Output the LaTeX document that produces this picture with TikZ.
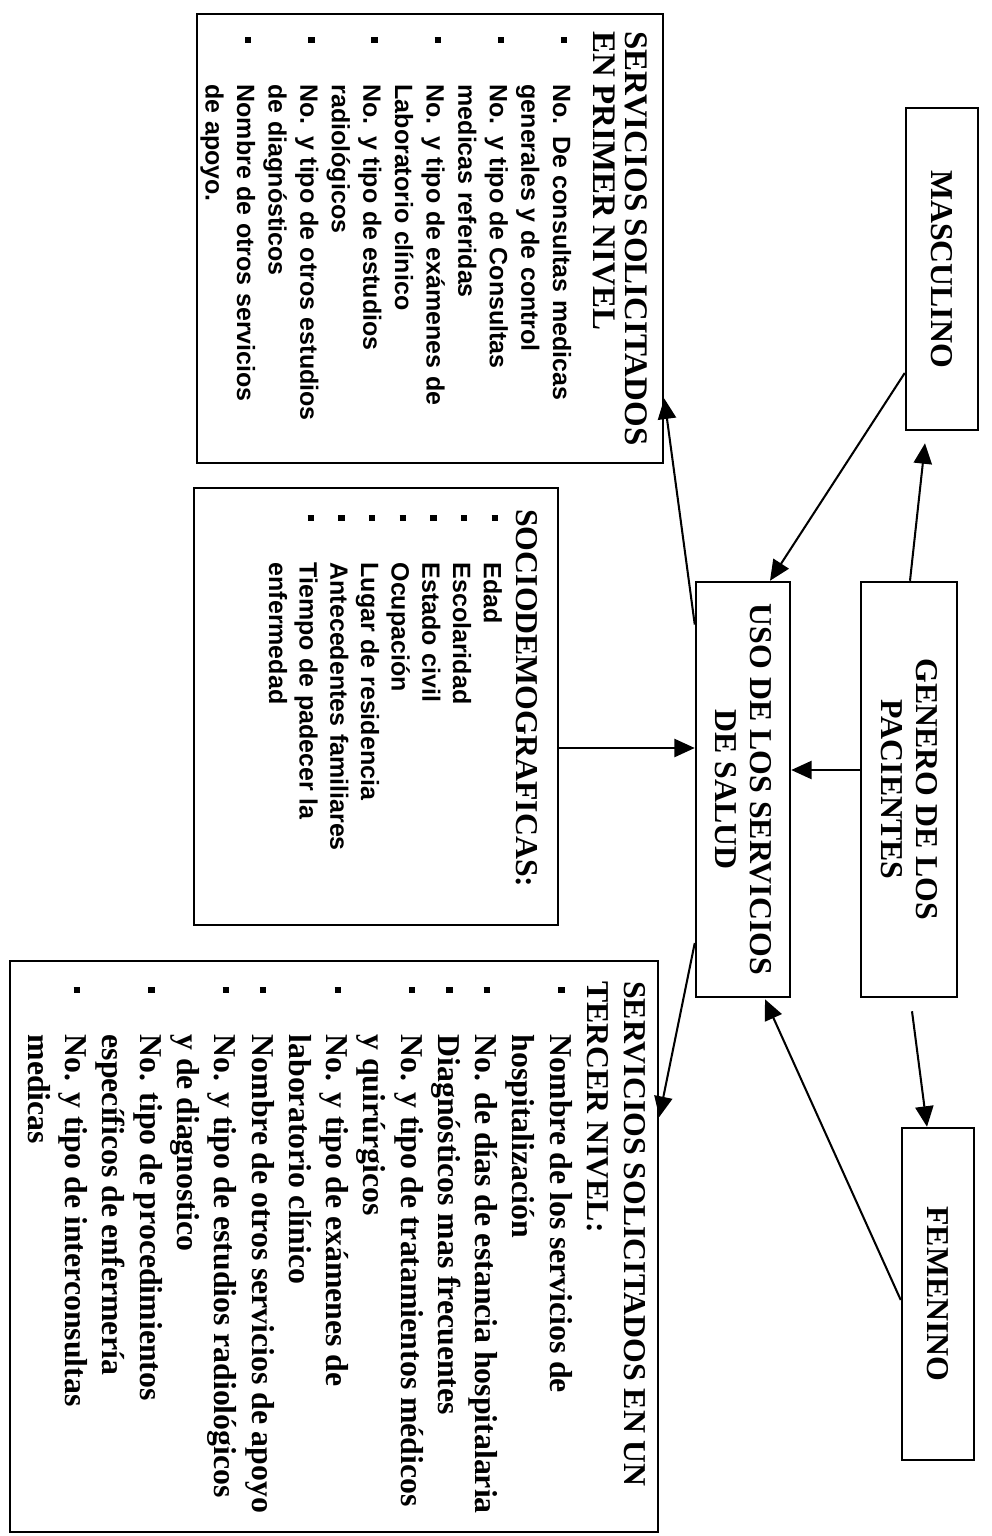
\documentclass[tikz,border=0pt]{standalone}
\usepackage{fontspec}
\setmainfont{Liberation Serif}
\setsansfont{Liberation Sans}
\usetikzlibrary{arrows.meta, calc}

\newlength{\px}\setlength{\px}{0.44pt}
\newlength{\itmind}\setlength{\itmind}{23.5pt}
\newcommand{\ttlfont}{\rmfamily\bfseries\fontsize{14}{15.5}\selectfont}
\newcommand{\lstfont}{\sffamily\bfseries\fontsize{11}{13.9}\selectfont}
\newcommand{\itm}{\par\noindent\hangindent=\itmind\hangafter=1\relax
  \makebox[\itmind][l]{\hspace{2.5pt}\raisebox{3.5pt}{\rule{2.8pt}{2.8pt}}}\ignorespaces}

\begin{document}
\begin{tikzpicture}[
    x=0.44pt, y=0.44pt, rotate=-90, transform shape,
    box/.style={rectangle, draw, line width=1.1pt, inner sep=0pt, font=\ttlfont, align=center},
    txt/.style={anchor=north west, inner sep=0pt, align=left},
    arrow/.style={-{Triangle[length=9pt, width=8pt]}, line width=0.9pt}
]
\useasboundingbox (0,0) rectangle (1536,992);

% genero y uso de servicios
\node[box, minimum width=322\px, minimum height=72\px] (masc) at (269,942) {MASCULINO};
\node[box, minimum width=415\px, minimum height=96\px] (genero) at (789.5,909) {GENERO DE LOS\\PACIENTES};
\node[box, minimum width=332\px, minimum height=72\px] (fem) at (1294,938) {FEMENINO};
\node[box, minimum width=415\px, minimum height=94\px] (uso) at (789.5,743) {USO DE LOS SERVICIOS\\DE SALUD};

% cuadros de variables
\node[box, minimum width=449\px, minimum height=466\px] (primer) at (238.5,430) {};
\node[box, minimum width=437\px, minimum height=364\px] (socio) at (706.5,376) {};
\node[box, minimum width=571\px, minimum height=648\px] (tercer) at (1246.5,334) {};

\node[txt, text width=440\px] (primertxt) at ($(primer.north west)+(18,-16)$) {%
  {\ttlfont\fontsize{14.5}{14.5}\selectfont SERVICIOS SOLICITADOS\\EN PRIMER NIVEL\par}
  \vspace{3.7pt}\lstfont
  \itm No. De consultas medicas\newline generales y de control
  \itm No. y tipo de Consultas\newline medicas referidas
  \itm No. y tipo de exámenes de\newline Laboratorio clínico
  \itm No. y tipo de estudios\newline radiológicos
  \itm No. y tipo de otros estudios\newline de diagnósticos
  \itm Nombre de otros servicios\newline de apoyo.\par};

\node[txt, text width=420\px] (sociotxt) at ($(socio.north west)+(22,-21)$) {%
  {\ttlfont SOCIODEMOGRAFICAS:\par}
  \vspace{1pt}\lstfont\fontsize{11}{13.5}\selectfont
  \itm Edad
  \itm Escolaridad
  \itm Estado civil
  \itm Ocupación
  \itm Lugar de residencia
  \itm Antecedentes familiares
  \itm Tiempo de padecer la\newline enfermedad\par};

\node[txt, text width=600\px] (tercertxt) at ($(tercer.north west)+(21,-13)$) {%
  \ttlfont\fontsize{14}{16.4}\selectfont
  SERVICIOS SOLICITADOS EN UN\\TERCER NIVEL:\par
  \itm Nombre de los servicios de\newline hospitalización
  \itm No. de días de estancia hospitalaria
  \itm Diagnósticos mas frecuentes
  \itm No. y tipo de tratamientos médicos\newline y quirúrgicos
  \itm No. y tipo de exámenes de\newline laboratorio clínico
  \itm Nombre de otros servicios de apoyo
  \itm No. y tipo de estudios radiológicos\newline y de diagnostico
  \itm No. tipo de procedimientos\newline específicos de enfermería
  \itm No. y tipo de interconsultas\newline medicas\par};

% conectores
\draw[arrow] ($(genero.west)+(0,1)$) -- ($(masc.east)+(12,-17)$);
\draw[arrow] ($(masc.south)+(104,0)$) -- ($(uso.west)+(0,27)$);
\draw[arrow] ($(genero.south)+(-19.5,0)$) -- ($(uso.north)+(-19.5,0)$);
\draw[arrow] ($(genero.east)+(13,3)$) -- ($(fem.west)+(0,-11)$);
\draw[arrow] ($(fem.south)+(6,0)$) -- ($(uso.east)+(1,22)$);
\draw[arrow] ($(uso.south)+(-165,0)$) -- ($(primer.north)+(160,0)$);
\draw[arrow] ($(socio.north)+(41.5,0)$) -- ($(uso.south)+(-41.5,0)$);
\draw[arrow] ($(uso.south)+(153.5,0)$) -- ($(tercer.north)+(-129.5,0)$);

\end{tikzpicture}
\end{document}
